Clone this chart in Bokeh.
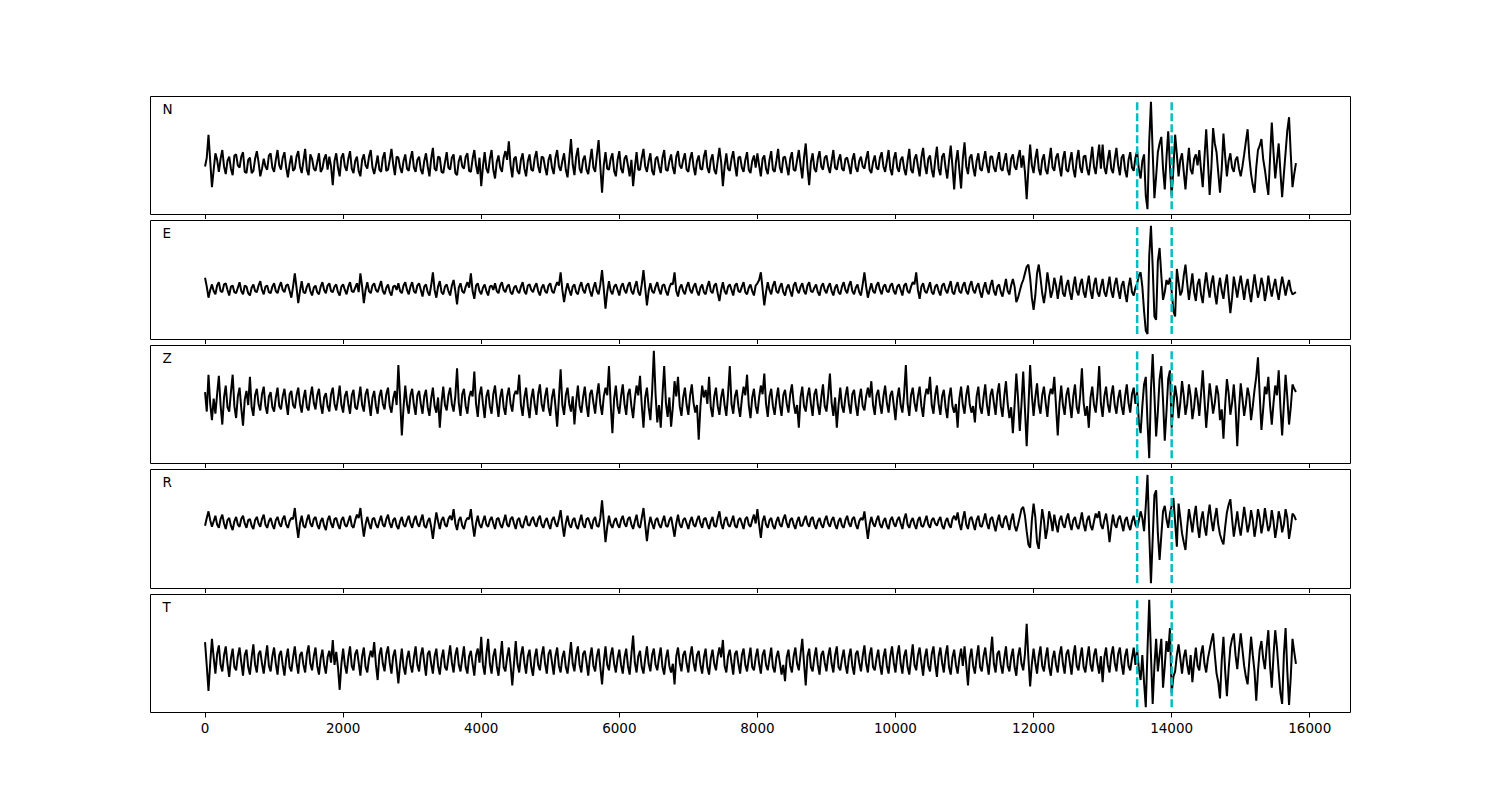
import numpy as np
from bokeh.plotting import figure
from bokeh.layouts import column
from bokeh.models import Range1d, FixedTicker, Label, CustomLabelingPolicy
from bokeh.embed import file_html
from bokeh.resources import INLINE

# sample spacing of the traces (time axis units)
STEP = 25

CHANNELS = ["N", "E", "Z", "R", "T"]

N = [
    -3, 5, 26, 2, -22, -6, 9, 3, -8, 4, 12, -3, -10, 2, 6, -5, -11, 7, 8, -2, -4, 6, 10, -8, -9, 3, 5, -9, -7, 4, 11, 1, -12, -5, 4, -3, -6, 7, 9, -4,
    -8, 3, 12, -2, -6, 5, 10, -4, -13, -1, 7, -7, -5, 6, 11, -3, -9, 2, 13, -6, -11, 8, 4, -5, -7, 1, 9, -8, -5, 4, 8, -6, 6, -3, -20, 2, 9, -4, -12, 5,
    9, -3, -7, 4, 11, -5, -9, 2, 6, -7, -12, 3, 8, -2, -5, 6, 12, -4, -10, -2, 7, -6, -8, 5, 10, -7, -6, 3, 13, -1, -11, 6, 5, -4, -9, 2, 8, -5, -7, 4,
    11, -4, -8, 3, 6, -6, -10, 2, 9, -3, -12, 4, 14, -5, -7, 6, 5, -8, -9, 1, 10, -4, -6, 5, 8, -9, -11, 2, 7, -3, -5, 6, 9, -7, -8, 4, 12, -2, -10, 5,
    -21, -3, 10, -5, -9, 4, 12, -6, -14, 1, 7, -4, -8, 5, 11, 3, 20, -2, -13, 4, 6, -7, -10, 3, 9, -5, -12, 2, 8, -6, -7, 5, 11, -3, -9, 6, 5, -4, -11, 3,
    8, -4, -10, 5, 12, -3, -7, 2, 9, -6, -13, 4, 22, -1, -11, 6, 14, -5, -9, 3, 7, -6, -10, 2, 13, -4, -8, 7, 21, -3, -27, -2, 10, -5, -6, 4, 9, -7, -12, 3,
    11, -5, -9, 4, 7, -2, -12, 3, -21, -4, 10, -6, -6, 5, 13, -3, -8, 2, 9, -7, -11, 4, 6, -3, -9, 5, 12, -6, -7, 2, 8, -4, -10, 6, 11, -2, -5, 3, 9, -6,
    -8, 4, 10, -3, -11, 2, 7, -5, -6, 6, 12, -4, -9, 3, 8, -6, -10, 2, 14, 1, -21, -3, 9, -5, -7, 4, 11, -2, -12, 5, 6, -4, -8, 3, 10, -6, -9, 2, 7, -4,
    9, -2, -12, 4, 7, -5, -10, 3, 11, -6, -8, 2, 13, -4, -9, 5, 6, -3, -11, 4, 10, -6, -7, 3, 12, -2, -14, 5, 18, -4, -20, 1, 9, -5, -8, 4, 11, -3, -6, 5,
    7, -3, -9, 2, 12, -4, -6, 3, 8, -5, -7, 4, 5, -2, -10, 3, 9, -4, -8, 2, 6, -3, -5, 4, 11, -6, -9, 1, 7, -4, -6, 5, 10, -3, -8, 2, 12, -5, -11, 4,
    10, -4, -8, 3, 6, -5, -11, 2, 13, -6, -9, 4, 8, -3, -12, 5, 14, -2, -10, 4, 7, -6, -13, 3, 15, -5, -11, 6, 9, -4, -14, 2, 16, -3, -24, 1, 12, -6, -23, 4,
    19, -3, -10, 5, 8, -4, -12, 2, 9, -5, -7, 3, 11, -2, -9, 6, 6, -4, -8, 3, 10, -5, -7, 2, 9, -6, -11, 4, 8, -3, -6, 5, 12, -4, 7, -8, -33, -5, 17, -2,
    -9, 4, 13, -5, -11, 3, 8, -6, -10, 2, 14, -4, -7, 5, 9, -3, -12, 4, 11, -6, -8, 2, 10, -5, -13, 3, 12, -4, -9, 6, 7, -5, -11, 2, 15, -3, -10, 4, 17, -5,
    17, -4, -10, 3, 12, -5, -9, 4, 14, -2, -11, 5, 8, -6, -13, 3, 10, -4, -7, 5, 11, -6, -14, 2, 8, -30, -42, 20, 56, 10, -32, -12, 10, 18, 24, -5, -24, 5, 29, -3,
    -30, -5, 26, 8, -12, 3, 9, -8, -24, -3, 14, -6, -10, 4, 8, -2, 12, -6, -22, 5, 31, 2, -29, -4, 32, 18, 10, -9, -27, -5, 27, 6, -12, 2, 9, -4, -8, 3, 6, -5,
    -12, -3, 8, 20, 31, 5, -10, -20, -27, -4, 12, 16, 22, 4, -6, -18, -29, 5, 37, 10, -14, 2, 18, -8, -31, -10, 10, 30, 42, 8, -22, -10, 0,
]

E = [
    10, 2, -8, -1, 4, -2, -5, 3, 6, -2, -3, 4, 5, -1, -6, 2, 3, -3, -4, 1, 6, -2, -5, 3, 2, -4, -6, 1, 4, -2, -3, 3, 7, -1, -5, 2, 3, -3, -4, 2,
    5, -2, -4, 2, 6, -1, -3, 3, 4, -2, -8, 2, 14, 1, -13, -2, 7, -3, -4, 2, 5, -2, -6, 1, 3, -3, -5, 2, 6, -1, -4, 3, 5, -2, -3, 2, 4, -3, -6, 2,
    4, -1, -5, 2, 6, -2, -3, 1, 5, -3, 14, 2, -13, -1, 6, -2, -4, 3, 5, -1, -3, 2, 7, -2, -5, 1, 4, -3, -6, 2, 3, -1, 5, -2, -4, 3, 6, -1, -5, 2,
    6, -2, -4, 3, 5, -1, -7, 2, 4, -3, -6, 3, 15, -1, -8, 2, 7, -3, -5, 2, 4, -2, -6, 3, 8, -2, -14, 1, 5, -2, -4, 2, 6, 1, 14, -2, -9, 3, 5, -2,
    -5, 1, 4, -2, -6, 2, 3, -1, 5, -2, -4, 3, 6, -1, -3, 2, 4, -3, -5, 1, 3, -2, -4, 2, 6, -2, -5, 3, 4, -1, -3, 2, 5, -2, -6, 1, 4, -2, -4, 3,
    5, -2, -4, 2, 6, 3, 15, -1, -12, -2, 5, -1, -6, 2, 4, -3, -5, 2, 6, -1, -4, 3, 5, -2, -7, 1, 6, -2, -5, 4, 17, 0, -18, -3, 7, -2, -5, 2, 4, -1,
    -6, 2, 5, -1, -4, 3, 6, -2, -5, 2, 7, -3, -6, 4, 17, 1, -15, -2, 5, -2, -4, 2, 6, -1, -5, 3, 4, -2, -6, 1, 5, 4, 15, -2, -7, 1, 4, -2, -5, 2,
    6, -1, -4, 2, 5, -2, -6, 1, 4, -3, -5, 2, 7, -2, -4, 3, 5, -4, -11, -1, 6, -2, -5, 2, 4, -1, -6, 3, 5, -2, -3, 2, 6, -3, -5, 1, 4, -2, -6, 3,
    5, 8, 15, 0, -15, -3, 6, -1, -5, 3, 7, -2, -4, 2, 5, -3, -6, 1, 4, -2, -7, 3, 6, -1, -4, 2, 5, -2, -5, 3, 6, -2, -3, 1, 4, -3, -6, 2, 5, -1,
    -4, 2, 5, -2, -6, 1, 4, -3, -5, 2, 6, -1, -4, 3, 7, -2, -5, 1, 4, -3, -6, 4, 15, 2, -8, -1, 5, -2, -4, 3, 6, -1, -5, 2, 4, -2, -3, 3, 5, -2,
    -5, 2, 4, -1, -6, 3, 5, -2, -4, 2, 6, 4, 15, -1, -9, 2, 5, -2, -4, 1, 6, -3, -5, 2, 4, -2, -6, 3, 5, -1, -4, 2, 7, -3, -5, 2, 6, -2, -4, 3,
    6, -2, -5, 3, 7, -1, -4, 2, 5, -3, -8, 1, 6, -2, -5, 3, 8, -2, -6, 2, 4, -3, -7, 1, 9, -2, -5, 3, 9, 2, -12, -8, -2, 4, 8, 14, 20, 22, 10, -8,
    -19, -6, 14, 22, 10, -4, -13, -2, 15, 4, -8, -2, 10, 3, -9, 2, 12, -4, -7, 3, 8, -3, -10, 2, 11, -2, -6, 4, 9, -3, -8, 3, 12, -2, -9, 4, 10, -3, -7, 2,
    9, -3, -7, 2, 11, -2, -8, 4, 10, -1, -9, 3, 7, -4, -12, 2, 10, -3, -6, 1, 5, 12, 15, 2, -20, -38, -41, 30, 57, 20, -25, -28, 25, 37, 12, -10, -3, 8, 4, 10,
    -2, -20, -25, 18, 6, -6, -2, 12, 22, 5, -10, 2, 14, -3, -11, 4, 9, -5, -13, 3, 15, 2, -8, 5, 12, -4, -14, 1, 10, -2, -9, 4, 13, -6, -22, -8, 11, 2, -8, 3,
    12, 1, -10, 2, 9, -3, -12, 1, 13, 2, -8, -1, 10, 3, -11, -2, 12, 1, -7, 2, 9, -2, -10, 1, 11, 3, -6, 2, 8, -1, -5, -4, -3,
]

Z = [
    8, -10, 24, -3, -18, 2, -12, 6, 23, -4, -22, 3, 14, -6, -10, 8, 24, -5, -16, 4, 12, -7, -23, 1, 9, -4, 22, -6, -14, 5, 11, -3, -9, 6, 13, -5, -12, 4, 8, -6,
    -10, 3, 12, -5, -8, 4, 11, -2, -13, 6, 9, -4, -7, 5, 12, -3, -11, 2, 10, -6, -9, 4, 13, -2, -8, 5, 11, -4, -12, 3, 7, -5, -10, 6, 12, -3, -9, 2, 14, -4,
    -11, 4, 9, -3, -12, 5, 10, -6, -8, 2, 13, -4, -10, 6, 11, -2, -14, 3, 9, -5, -12, 4, 10, -3, -8, 6, 12, -5, -11, 2, 9, -4, 33, 2, -32, -6, 14, -3, -12, 5,
    11, -4, -13, 5, 9, -3, -12, 4, 10, -6, -14, 2, 12, -5, -11, 3, -25, -2, 13, -4, -9, 5, 12, -3, -10, 4, 30, -2, -14, 6, 11, -5, -12, 3, 9, 4, 27, -3, -15, 5,
    13, -3, -16, 4, 10, -5, -12, 6, 14, -2, -15, 3, 11, -6, -13, 4, 12, -3, -10, 5, 9, 6, 24, -4, -14, 3, 12, -5, -16, 2, 11, -4, -13, 6, 15, -3, -10, 4, 12, -6,
    -14, 3, 11, -5, -24, 2, 29, -4, -13, 5, 12, -3, -10, 4, -22, -1, 14, -5, -11, 3, 13, -4, -15, 6, 10, -2, -12, 5, 16, -3, -13, 4, 12, 5, 32, -3, -30, 2, 14, -5,
    -12, 4, 15, -3, -13, 6, 11, -5, -16, 2, 14, 5, 23, -4, -25, 3, 12, -6, -18, 8, 46, 6, -20, -4, -25, 5, 32, -2, -15, 3, -24, -6, 18, 4, 22, -5, -14, 3, 12, -4,
    -13, 5, 15, -2, -11, -4, -36, -5, 14, 3, 10, -3, 22, -6, -15, 4, 12, -5, -13, 3, 11, -4, -14, 6, 32, -3, -12, 4, 10, -5, -15, 2, 13, 5, 24, -4, -16, 3, 11, -5,
    -12, 3, 14, 6, 25, -3, -15, 4, 11, -5, -13, 2, 12, -4, -14, 5, 10, -3, -11, 6, 15, -2, -12, -4, -25, 3, 13, -5, -10, 4, 12, -3, -14, 6, 11, -4, -13, 3, 15, -5,
    -10, 5, 25, -2, -14, 3, -25, -4, 12, -5, -11, 4, 13, -3, -12, 6, 10, -4, -14, 2, 11, -5, -9, 4, 12, 3, 18, -4, -13, 5, 10, -3, -12, 4, 14, -2, -11, 5, 9, -4,
    -18, 2, 12, -4, -11, 6, 33, -3, -14, 5, 12, -2, -10, 4, 13, -5, -15, 3, 11, 6, 22, -4, -12, 5, 14, -3, -13, 4, 10, -6, -16, 3, 12, -5, -11, -3, -25, 2, 13, -4,
    -12, 5, 14, -3, -11, -5, -20, 4, 13, -6, -12, 3, 15, -4, -14, 5, 11, -2, -13, 6, 16, -5, -15, 4, 18, -3, -16, -6, -30, -4, 25, 2, -28, -3, 27, -8, -42, -6, 33, 5,
    -14, 3, 16, -4, -12, 5, 13, -2, -15, 4, 11, 6, 22, -5, -32, -3, 14, -4, -13, 5, 12, -3, -16, 4, 15, -6, -12, 5, 30, -2, -14, -5, -25, 3, 13, -4, -11, 6, 32, -3,
    -15, 4, 13, -3, -11, 5, 14, -4, -12, 2, 10, -5, -13, 4, 15, -2, -11, 6, 12, -3, 8, -20, -30, -5, 15, 22, -20, -53, 10, 43, 5, -33, -10, 20, 32, 0, -37, -10, 20, 28,
    -25, -4, 14, 3, -16, -2, 18, 5, -13, -3, 15, 4, -17, -6, 12, 2, -14, 6, 28, 1, -25, -5, 16, 3, -12, -2, 14, 6, -18, -8, -35, -4, 20, 7, -13, -2, 15, -6, -42, -8,
    16, 2, -14, -3, 12, 4, -18, -5, 10, 22, 40, 5, -27, -8, 13, 6, 22, -4, -22, -2, 14, 5, 28, -6, -32, -4, 24, 3, -22, -6, 15, 11, 8,
]

R = [
    -3, 4, 10, 2, -4, 1, 6, -2, -5, 3, 7, -1, -6, 2, 4, -3, -7, 1, 5, -2, -4, 3, 6, -1, -5, 2, 3, -3, -6, 2, 5, -1, -4, 3, 7, -2, -5, 1, 4, -2,
    -6, 2, 5, -1, -4, 3, 6, -2, -5, 1, 4, 3, 13, -2, -14, -1, 6, -3, -5, 2, 7, -1, -4, 3, 5, -2, -6, 1, 4, -3, -7, 2, 6, -1, -5, 3, 4, -2, -6, 2,
    5, -2, -4, 1, 6, -3, -5, 2, 7, 4, 13, -1, -13, -2, 5, -1, -6, 3, 4, -2, -5, 1, 6, -2, -4, 3, 7, -1, -5, 2, 4, -3, -6, 1, 5, -2, -4, 2, 6, -1,
    -5, 2, 6, -1, -4, 2, 7, -3, -5, 1, 4, -4, -15, -2, 9, 1, -6, 2, 5, -2, -4, 3, 6, 2, 12, -1, -7, 2, 5, -3, -6, 1, 4, 3, 12, -2, -13, -1, 6, -2,
    -5, 1, 6, -2, -4, 2, 5, -1, -6, 3, 4, -2, -5, 1, 7, -2, -4, 3, 5, -1, -6, 2, 4, -3, -5, 1, 6, -2, -3, 2, 5, -1, -4, 3, 6, -2, -5, 1, 4, -2,
    -6, 2, 5, -1, -4, 3, 11, -2, -13, -1, 6, -2, -5, 2, 4, -3, -6, 1, 7, -2, -5, 3, 4, -1, -6, 2, 5, -3, -4, 4, 20, 1, -18, -4, 6, -2, -5, 1, 4, -2,
    -5, 2, 6, -1, -4, 3, 5, -2, -6, 1, 7, -3, -5, 4, 13, -2, -17, -3, 5, -1, -6, 2, 4, -2, -5, 1, 6, -3, -4, 2, 5, -4, -13, -1, 7, -2, -5, 2, 4, -1,
    -6, 1, 5, -2, -4, 2, 6, -1, -5, 3, 4, -2, -6, 1, 5, -3, -4, 4, 10, -1, -6, 2, 5, -2, -4, 1, 6, -3, -5, 2, 4, -1, -6, 3, 5, -2, -4, 2, 7, -1,
    12, -2, -14, 1, 6, -2, -5, 2, 4, -3, -6, 1, 5, -2, -4, 3, 7, -1, -5, 2, 4, -2, -6, 1, 5, -3, -3, 2, 6, -1, -4, 3, 5, -2, -6, 1, 4, -2, -5, 2,
    6, -1, -4, 2, 5, -2, -6, 1, 4, -3, -5, 2, 6, -1, -4, 3, 5, -2, -6, 1, 4, 2, 10, -3, -15, -2, 5, -1, -4, 2, 6, -2, -5, 1, 4, -3, -6, 2, 5, -1,
    -4, 2, 5, -1, -6, 3, 8, -2, -5, 1, 4, -2, -6, 2, 5, -3, -4, 1, 6, -2, -5, 2, 4, -1, -3, 2, 5, -3, -6, 1, 4, -2, -5, 3, 6, 2, 9, -1, -7, 3,
    10, -2, -6, 3, 5, -1, -7, 2, 6, -3, -4, 2, 8, -1, -6, 3, 5, -2, -8, 1, 7, -2, -5, 3, 6, -1, -7, 2, 8, -3, -8, -2, 5, 12, 14, 6, -8, -20, -23, 2,
    17, 5, -18, -24, -5, 12, 2, -15, -6, 10, 3, -8, 7, -2, -9, 2, 6, -2, -5, 3, 8, -1, -7, 2, 5, -3, -6, 1, 9, -2, -8, 2, 6, -3, -7, 1, 8, 4, 10, -2,
    -6, 2, 8, -3, -18, -4, 7, -2, -5, 3, 6, -1, -8, 2, 5, -3, -7, 1, 6, -2, -5, 2, 10, 4, -8, 15, 43, -10, -55, -15, 25, 29, -10, -34, -12, 10, 15, 3, -5, 8,
    15, 22, 0, -22, 17, 4, -10, -18, -25, -4, 12, 2, -9, 5, 15, -3, -14, 2, 10, -4, -12, 5, 16, 2, -8, 4, 13, -2, -11, -16, -20, -4, 9, 16, 21, 3, -13, -2, 10, -3,
    -12, 1, 14, 3, -9, -2, 11, 2, -13, -3, 12, 4, -10, -1, 13, 2, -8, -3, 11, 1, -14, -4, 10, 3, -9, -2, 12, 4, -15, -5, 8, 6, 2,
]

T = [
    17, -5, -28, -2, 20, 3, -12, 6, 14, -4, -10, 5, 13, -3, -15, 2, 11, -6, -9, 4, 12, -2, -14, 5, 10, -6, -13, 3, 15, -4, -11, 6, 9, -3, -12, 2, 14, -5, -10, 4,
    12, -3, -13, 5, 9, -4, -14, 2, 11, -6, -10, 3, 13, -2, -12, 5, 8, -4, -11, 6, 14, -3, -9, 4, 12, -5, -13, 2, 10, -4, -12, 3, 9, -2, 19, -4, 8, -6, -27, -3,
    11, -4, -12, 3, 13, -5, -9, 6, 10, -2, -14, 4, 12, -6, -11, 2, 9, 3, 17, -4, -18, 5, 12, -3, -10, 6, 13, -2, -12, 4, 10, -5, -21, -3, 11, -6, -13, 2, 9, -4,
    -11, 3, 13, -4, -10, 5, 12, -2, -14, 6, 9, -3, -12, 4, 11, -5, -13, 2, 10, -6, -9, 3, 14, -2, -11, 5, 12, -4, -10, 2, 13, -6, -12, 4, 9, -3, -14, 5, 11, -2,
    22, -4, -13, 6, 20, -3, -12, 4, 11, -5, -14, 2, 18, -6, -10, 3, 12, -4, -23, -2, 18, -3, -11, 5, 13, -2, -12, 4, 10, -6, -14, 3, 11, -4, -9, 5, 13, -3, -12, 6,
    10, -2, -13, 4, 12, -5, -11, 3, 9, -6, -12, 2, 17, -3, -10, 5, 13, -4, -11, 6, 9, -2, -14, 3, 12, -5, -10, 4, 11, -6, -22, -1, 13, -4, -9, 5, 12, -3, -11, 2,
    10, -4, -12, 3, 11, -5, -13, 6, 23, -2, -11, 4, 9, -6, -12, 2, 13, -3, -10, 5, 11, -4, -9, 3, 12, -6, -13, 2, 10, -5, -11, -3, -22, 4, 12, -2, -10, 5, 9, -3,
    -11, 4, 13, -2, -10, 5, 9, -4, -12, 3, 11, -6, -13, 2, 10, -3, -9, 4, 12, 3, 19, -5, -11, 4, 10, -2, -13, 6, 9, -3, -12, 5, 11, -4, -10, 2, 12, -6, -9, 3,
    11, -3, -12, 5, 10, -4, -9, 2, 12, -6, -11, 3, 9, -2, -13, -4, -19, 3, 10, -5, -11, 4, 12, -3, -9, 6, 20, -2, -23, 4, 11, -6, -10, 3, 12, -4, -13, 5, 9, -2,
    -10, 4, 12, -3, -11, 5, 13, -6, -9, 2, 10, -4, -12, 3, 11, -5, -13, 6, 9, -2, -10, 4, 14, -3, -11, 5, 12, -6, -9, 2, 10, -4, -13, 3, 11, -5, -12, 4, 13, -2,
    -11, 5, 14, -3, -12, 4, 10, -6, -13, 2, 15, -4, -9, 5, 12, -2, -14, 3, 11, -5, -10, 6, 13, -3, -15, 4, 12, -2, -11, 5, 14, -6, -13, 3, 10, -4, -12, 2, 11, -5,
    13, -4, -23, 2, 11, -5, -12, 3, 14, -6, -10, 4, 12, -2, -13, 5, 22, -3, -11, 6, 9, -4, -12, 2, 13, -5, -10, 3, 11, -6, -14, 4, 12, -3, -9, 6, 34, 2, -24, -3,
    11, -2, -12, 4, 13, -5, -10, 3, 12, -6, -14, 2, 9, -4, -11, 5, 13, -3, -12, 6, 10, -2, -13, 4, 14, -5, -9, 3, 12, -6, -11, 2, 13, -4, -10, 5, 11, -3, -12, 4,
    -20, 3, 12, -4, -11, 5, 13, -2, -10, 6, 12, -3, -13, 4, 11, -5, -9, 2, 12, -4, 10, -8, -18, 5, -20, -43, 10, 56, 5, -40, -5, 20, -10, 5, 20, -25, -5, 18, 8, 30,
    -30, -15, -10, 5, 15, 2, -12, 3, 10, -4, -13, 5, -20, -2, 12, -5, -9, 6, 14, -3, -11, 2, 10, 18, 25, 5, -12, -20, -35, 0, 22, -10, -33, -8, 12, 20, 25, 5, -8, 10,
    25, 10, -5, -15, -22, 0, 22, 5, -10, -37, -10, 10, 18, 2, -8, 12, 28, -5, -25, 5, 28, 12, -10, -30, -40, 5, 30, -10, -41, -15, 20, 8, -3,
]

TRACES = [N, E, Z, R, T]
PICKS = [13500, 14000]
XTICKS = [0, 2000, 4000, 6000, 8000, 10000, 12000, 14000, 16000]

FRAME_HEIGHTS = [118, 119, 118, 119, 118]
FONT = "DejaVu Sans"

n_samples = len(N)
t_end = (n_samples - 1) * STEP
xpad = 0.05 * t_end
x_range = Range1d(-xpad, t_end + xpad)

no_labels = CustomLabelingPolicy(code="return []")

figs = []
for k, (name, vals) in enumerate(zip(CHANNELS, TRACES)):
    y = np.asarray(vals, dtype=float)
    t = np.arange(len(y)) * STEP
    lo, hi = float(y.min()), float(y.max())
    sp = hi - lo
    first = k == 0
    last = k == len(CHANNELS) - 1
    p = figure(
        frame_width=1200, frame_height=FRAME_HEIGHTS[k],
        x_range=x_range, y_range=Range1d(lo - 0.05 * sp, hi + 0.05 * sp),
        output_backend="svg", toolbar_location=None,
        min_border_left=150, min_border_right=130,
        min_border_top=96 if first else 1,
        min_border_bottom=60 if last else 5,
        background_fill_color="white", border_fill_color="white",
    )
    p.line(t, y, line_color="black", line_width=2)
    for pk in PICKS:
        p.segment(x0=[pk], y0=[lo], x1=[pk], y1=[hi],
                  line_color="#00BFBF", line_width=2.5, line_dash="8 3")
    p.yaxis.visible = False
    p.xgrid.visible = False
    p.ygrid.visible = False
    p.outline_line_color = "black"
    p.outline_line_width = 1
    p.outline_line_alpha = 1
    ax = p.xaxis[0]
    ax.ticker = FixedTicker(ticks=XTICKS)
    ax.axis_line_color = None
    ax.major_tick_out = 5
    ax.major_tick_in = 0
    ax.minor_tick_out = 0
    ax.minor_tick_in = 0
    ax.major_tick_line_color = "black"
    ax.major_label_text_font = FONT
    ax.major_label_text_color = "black"
    if last:
        ax.major_label_text_font_size = "13.5px"
        ax.major_label_standoff = 5
    else:
        ax.major_label_text_font_size = "0px"
        ax.major_label_standoff = 0
        ax.major_label_policy = no_labels
    p.add_layout(Label(x=12, y=FRAME_HEIGHTS[k] - 12, x_units="screen", y_units="screen",
                       text=name, text_font=FONT, text_font_size="13.5px",
                       text_color="black", text_baseline="middle", text_align="left"))
    figs.append(p)

layout = column(*figs)
open("out.html", "w").write(file_html(layout, INLINE))
